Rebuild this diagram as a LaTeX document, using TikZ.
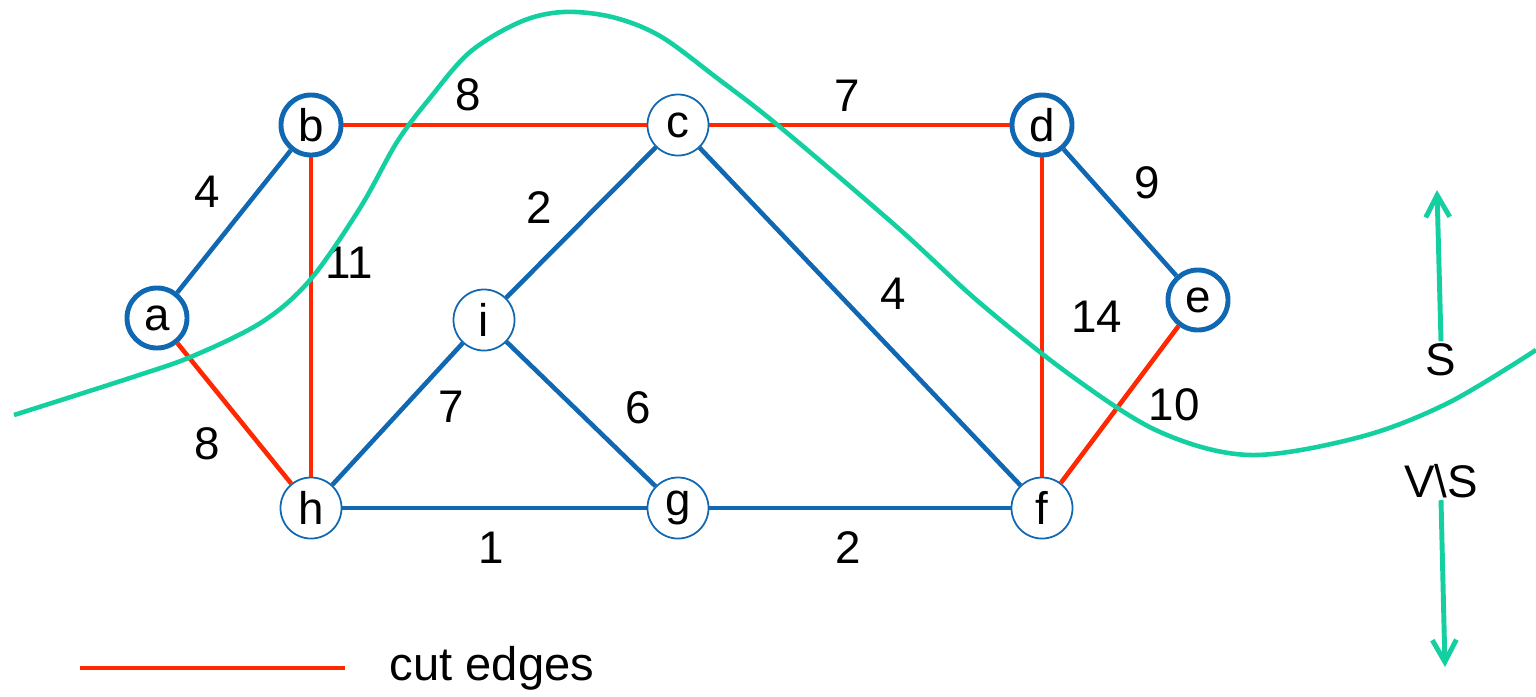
\documentclass[tikz,border=0pt]{standalone}
\usepackage{fontspec}
\setmainfont{Liberation Sans}
\usetikzlibrary{arrows.meta}
\definecolor{edgeblue}{RGB}{16,104,178}
\definecolor{cutred}{RGB}{255,40,0}
\definecolor{cutgreen}{RGB}{20,208,160}
\begin{document}
\begin{tikzpicture}
      [x=0.01cm, y=-0.01cm,
       main node/.style={circle,draw=edgeblue,fill=white,line width=0.5pt,minimum size=6.1mm,inner sep=0pt,font=\fontsize{13}{15}\selectfont},
       heavy node/.style={main node,line width=1.4pt,minimum size=6.0mm},
       tree edge/.style={draw=edgeblue,line width=1.3pt},
       cut edge/.style={draw=cutred,line width=1.3pt},
       weight/.style={font=\fontsize{13}{15}\selectfont},
       side arrow/.style={draw=cutgreen,line width=1.4pt,-{Straight Barb[length=2.2mm,width=2.4mm]}}]
      \useasboundingbox (0,0) rectangle (1536,696);

      \node[heavy node] (a) at (157,318) {a};
      \node[heavy node] (b) at (311,125) {b};
      \node[main node] (c) at (678,125) {c};
      \node[heavy node] (d) at (1042,125) {d};
      \node[heavy node] (e) at (1198,300) {e};
      \node[main node] (f) at (1042,508) {f};
      \node[main node] (g) at (678,508) {g};
      \node[main node] (h) at (311,508) {h};
      \node[main node] (i) at (484,320) {i};

      \draw[tree edge] (a) -- node[weight, above left] {4} (b);
      \draw[cut edge] (a) -- node[weight, below left] {8} (h);
      \draw[cut edge] (b) -- node[weight, pos=0.41, above] {8} (c);
      \draw[cut edge] (b) -- node[weight, pos=0.33, right] {11} (h);
      \draw[cut edge] (c) -- node[weight, pos=0.46, above] {7} (d);
      \draw[tree edge] (i) -- node[weight, pos=0.4, above left] {2} (c);
      \draw[tree edge] (c) -- node[weight, pos=0.52, above right] {4} (f);
      \draw[tree edge] (d) -- node[weight, above right] {9} (e);
      \draw[cut edge] (d) -- node[weight, right, xshift=0.15cm] {14} (f);
      \draw[cut edge] (e) -- node[weight, right, xshift=0.15cm] {10} (f);
      \draw[tree edge] (h) -- node[weight, pos=0.55, right, xshift=0.2cm] {7} (i);
      \draw[tree edge] (i) -- node[weight, pos=0.5, right, xshift=0.3cm, yshift=0.06cm] {6} (g);
      \draw[tree edge] (h) -- node[weight, pos=0.49, below, yshift=-0.1cm] {1} (g);
      \draw[tree edge] (g) -- node[weight, pos=0.46, below, yshift=-0.1cm] {2} (f);

      % the cut
      \draw[cutgreen, line width=1.3pt] plot[smooth, tension=0.55] coordinates {
        (14,415) (133,377) (193,356) (262,322) (310,280) (360,208) (397,142)
        (430,98) (470,52) (520,22) (563,12) (612,17) (660,36) (717,78)
        (780,127) (897,227) (980,303) (1073,377) (1160,432) (1250,455)
        (1360,437) (1448,403) (1536,350)};

      \node[weight] (s) at (1441,360) {S};
      \node[weight] (vs) at (1441,481) {V\textbackslash S};
      \coordinate (up) at (1437,190);
      \coordinate (down) at (1445,667);
      \draw[side arrow] (s.north) ++(0,-0.1cm) coordinate (s top) (s top) -- (up);
      \draw[side arrow] (vs.south) ++(0,0.1cm) coordinate (vs bot) (vs bot) -- (down);

      \coordinate (key start) at (80,668);
      \node[weight, font=\fontsize{13.4}{15}\selectfont] (key) at (492,668) {cut edges};
      \draw[cut edge] (key start) -- ++(265,0);
   \end{tikzpicture}
\end{document}
